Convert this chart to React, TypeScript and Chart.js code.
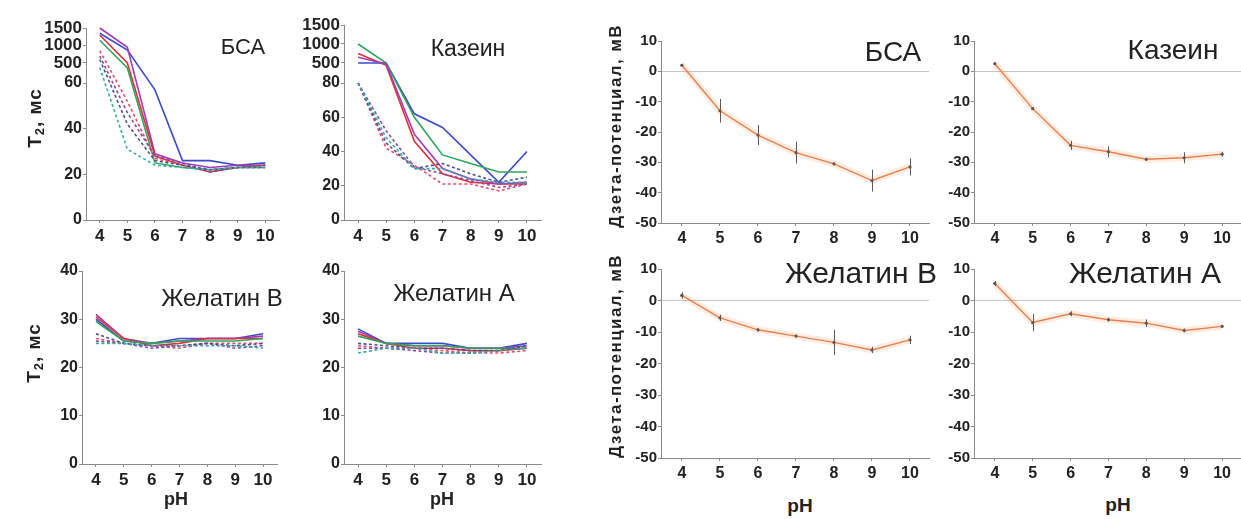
import React, { useEffect, useRef } from 'react';
import { Chart, registerables, LinearScale } from 'chart.js';

// ---------------- data ----------------
const PH = [4, 5, 6, 7, 8, 9, 10];

// T2 (ms), BSA
const BSA_SOLID_BLUE = [1350, 870, 57, 26, 26, 24, 25];
const BSA_SOLID_PURPLE = [1500, 950, 29, 25, 23, 24, 24];
const BSA_SOLID_RED = [1300, 500, 28, 24, 21, 23, 24];
const BSA_SOLID_GREEN = [1150, 390, 25, 23, 22, 23, 23];
const BSA_DASH_RED = [850, 52, 27, 24, 22, 23, 24];
const BSA_DASH_PURPLE = [700, 47, 28, 25, 21, 23, 24];
const BSA_DASH_NAVY = [600, 42, 26, 24, 22, 23, 23];
const BSA_DASH_TEAL = [400, 31, 24, 23, 22, 23, 23];

// T2 (ms), casein
const CAS_SOLID_GREEN = [1000, 500, 60, 38, 33, 28, 28];
const CAS_SOLID_RED = [750, 450, 46, 27, 22, 21, 21];
const CAS_SOLID_BLUE = [500, 500, 62, 54, 38, 22, 40];
const CAS_SOLID_PURPLE = [650, 480, 50, 30, 24, 21, 22];
const CAS_DASH_PURPLE = [80, 52, 31, 27, 23, 19, 21];
const CAS_DASH_NAVY = [80, 45, 30, 33, 27, 22, 25];
const CAS_DASH_RED = [80, 42, 32, 21, 21, 17, 21];
const CAS_DASH_TEAL = [80, 48, 30, 30, 24, 22, 22];

// T2 (ms), gelatin B
const GB_SOLID_BLUE = [30, 25.5, 25, 26, 26, 26, 27];
const GB_SOLID_PURPLE = [31, 26, 25, 25.5, 26, 26, 26.5];
const GB_SOLID_RED = [30.5, 26, 24.5, 25, 26, 26, 26];
const GB_SOLID_GREEN = [29.5, 25.5, 25, 25.5, 25.5, 25.5, 26];
const GB_DASH_NAVY = [27, 25, 24.5, 24.5, 25, 24.5, 25];
const GB_DASH_RED = [26, 25, 24.5, 24, 25, 25, 25];
const GB_DASH_PURPLE = [25.5, 25, 24, 24.5, 25, 24, 24.5];
const GB_DASH_TEAL = [25, 25, 24.5, 24.5, 24.5, 24.5, 24];

// T2 (ms), gelatin A
const GA_SOLID_BLUE = [28, 25, 25, 25, 24, 24, 25];
const GA_SOLID_PURPLE = [27.5, 25, 24.5, 24.5, 24, 24, 24.5];
const GA_SOLID_RED = [27, 25, 24, 24, 23.5, 23.5, 24];
const GA_SOLID_GREEN = [26.5, 25, 24.5, 24.5, 24, 24, 24];
const GA_DASH_NAVY = [25, 24.5, 24, 24, 23.5, 23.5, 24.5];
const GA_DASH_RED = [24.5, 24, 24, 23.5, 23, 23, 23.5];
const GA_DASH_PURPLE = [24, 24, 23.5, 23, 23, 23.5, 24];
const GA_DASH_TEAL = [23, 24, 24, 23, 23, 23.5, 24];

// zeta potential (mV) with errors
const Z_BSA = [2, -13, -21, -26.8, -30.5, -36, -31.5];
const Z_BSA_ERR = [0.5, 3.9, 3.3, 3.6, 0.5, 3.6, 2.8];
const Z_CAS = [2.5, -12.3, -24.4, -26.5, -29, -28.5, -27.3];
const Z_CAS_ERR = [0.5, 0.5, 1.5, 1.8, 0.5, 1.8, 0.8];
const Z_GB = [1.6, -5.5, -9.3, -11.3, -13.3, -15.7, -12.5];
const Z_GB_ERR = [1, 1, 0.5, 0.5, 4, 1, 1.3];
const Z_GA = [5.4, -7, -4.2, -6.1, -7.2, -9.5, -8.2];
const Z_GA_ERR = [0.8, 2.8, 0.8, 0.6, 1.2, 0.6, 0.5];

// tick labels
const T2_BSA_TICKS = [0, 20, 40, 60, 500, 1000, 1500];
const T2_CAS_TICKS = [0, 20, 40, 60, 80, 500, 1000, 1500];
const T2_GEL_TICKS = [0, 10, 20, 30, 40];
const ZETA_TICKS = [-50, -40, -30, -20, -10, 0, 10];

// ---------------- styles ----------------
const FONT = '"Liberation Sans", Arial, Helvetica, sans-serif';
const AXIS = '#8a8a8a';
const TXT = '#222';
const C = {
  blue: '#3b4cc8', purple: '#a23cb4', red: '#e2303a', green: '#2fa45e',
  dred: '#e2506e', dpurple: '#8a4a9e', dnavy: '#4f4f8c', dteal: '#36aaa6',
};

// broken axis: value breakpoints -> fraction of axis height
const BREAKS: Record<string, { values: number[]; fracs: number[] }> = {
  yBSA: { values: [0, 60, 500, 1500], fracs: [0, 137 / 192, 157 / 192, 1] },
  yCAS: { values: [0, 80, 500, 1500], fracs: [0, 137 / 195, 157 / 195, 1] },
};

class BrokenScale extends LinearScale {
  static id = 'broken';
  static defaults = LinearScale.defaults;
  _dec(v: number) {
    const b = BREAKS[(this as any).id];
    const V = b.values, F = b.fracs;
    let i = 1;
    while (i < V.length - 1 && v > V[i]) i++;
    return F[i - 1] + ((v - V[i - 1]) / (V[i] - V[i - 1])) * (F[i] - F[i - 1]);
  }
  getPixelForValue(v: any) {
    if (v === null || v === undefined || isNaN(v)) return NaN;
    return (this as any).getPixelForDecimal(this._dec(+v));
  }
  getValueForPixel(p: number) {
    const d = (this as any).getDecimalForPixel(p);
    const b = BREAKS[(this as any).id];
    const V = b.values, F = b.fracs;
    let i = 1;
    while (i < F.length - 1 && d > F[i]) i++;
    return V[i - 1] + ((d - F[i - 1]) / (F[i] - F[i - 1])) * (V[i] - V[i - 1]);
  }
}

Chart.register(...registerables, BrokenScale as any);

const PT = 12, PR = 4, XH = 30;

type Series = { v: number[]; color: string; dash: boolean };

function t2Series(list: Series[], yId: string) {
  return list.map((s) => ({
    data: PH.map((x, i) => ({ x, y: s.v[i] })),
    borderColor: s.color,
    borderWidth: 1.6,
    borderDash: s.dash ? [3, 2.5] : [],
    pointRadius: 0,
    tension: 0,
    fill: false,
    clip: false as any,
    yAxisID: yId,
  }));
}

function xScale(min: number, size: number) {
  return {
    type: 'linear',
    min,
    max: 10.5,
    afterBuildTicks: (s: any) => { s.ticks = PH.map((v) => ({ value: v })); },
    afterFit: (s: any) => { s.height = XH; },
    grid: { display: true, drawOnChartArea: false, tickColor: AXIS, tickLength: 3 },
    border: { display: true, color: AXIS, width: 1 },
    ticks: { autoSkip: false, maxRotation: 0, padding: 3, color: TXT, font: { family: FONT, size, weight: 'bold' } },
  };
}

function baseOptions(scales: any) {
  return {
    animation: false,
    responsive: false,
    events: [],
    layout: { padding: { top: PT, right: PR, left: 0, bottom: 0 } },
    plugins: { legend: { display: false }, tooltip: { enabled: false }, title: { display: false } },
    scales,
  };
}

function t2Config(series: Series[], yId: string, ticks: number[], broken: boolean, max: number, yw: number) {
  const y: any = {
    type: broken ? 'broken' : 'linear',
    axis: 'y',
    position: 'left',
    min: 0,
    max,
    afterBuildTicks: (s: any) => { s.ticks = ticks.map((v) => ({ value: v })); },
    afterFit: (s: any) => { s.width = yw; },
    grid: { display: true, drawOnChartArea: false, tickColor: AXIS, tickLength: 3 },
    border: { display: true, color: AXIS, width: 1 },
    ticks: {
      autoSkip: false,
      padding: 1,
      color: TXT,
      callback: (v: any) => String(v),
      font: (ctx: any) => ({ family: FONT, weight: 'bold', size: ctx.tick && ctx.tick.value >= 500 ? 17 : 16 }),
    },
  };
  return {
    type: 'line',
    data: { datasets: t2Series(series, yId) },
    options: baseOptions({ x: xScale(3.5, 17), [yId]: y }),
  };
}

function errorBars(vals: number[], errs: number[]) {
  return {
    id: 'errbars',
    afterDatasetsDraw(chart: any) {
      const { ctx } = chart;
      const x = chart.scales.x, y = chart.scales.y;
      ctx.save();
      ctx.strokeStyle = '#5a5a5a';
      ctx.lineWidth = 1;
      PH.forEach((p, i) => {
        const px = Math.round(x.getPixelForValue(p)) + 0.5;
        ctx.beginPath();
        ctx.moveTo(px, y.getPixelForValue(vals[i] + errs[i]));
        ctx.lineTo(px, y.getPixelForValue(vals[i] - errs[i]));
        ctx.stroke();
      });
      ctx.restore();
    },
  };
}

function zetaConfig(vals: number[], errs: number[]) {
  const pts = PH.map((x, i) => ({ x, y: vals[i] }));
  return {
    type: 'line',
    data: {
      datasets: [
        { data: pts, borderColor: 'rgba(250,170,120,0.22)', borderWidth: 7, pointRadius: 0, tension: 0, clip: false },
        { data: pts, borderColor: '#dc7848', borderWidth: 1.4, pointRadius: 1.6, pointBackgroundColor: '#444', pointBorderWidth: 0, tension: 0, clip: false },
      ],
    },
    options: baseOptions({
      x: xScale(3.45, 16),
      y: {
        type: 'linear',
        min: -50,
        max: 10,
        afterBuildTicks: (s: any) => { s.ticks = ZETA_TICKS.map((v) => ({ value: v })); },
        afterFit: (s: any) => { s.width = 40; },
        grid: {
          display: true,
          color: (ctx: any) => (ctx.tick && ctx.tick.value === 0 ? '#c4c4c4' : 'rgba(0,0,0,0)'),
          tickColor: AXIS,
          tickLength: 3,
        },
        border: { display: true, color: AXIS, width: 1 },
        ticks: { autoSkip: false, padding: 1, color: TXT, font: { family: FONT, size: 15, weight: 'bold' } },
      },
    }),
    plugins: [errorBars(vals, errs)],
  };
}

const S = (v: number[], color: string, dash: boolean): Series => ({ v, color, dash });

type Panel = { L: number; T: number; R: number; B: number; yw: number; make: () => any };

const PANELS: Panel[] = [
  {
    L: 86, T: 28, R: 279, B: 220, yw: 52,
    make: () => t2Config([
      S(BSA_DASH_TEAL, C.dteal, true), S(BSA_DASH_NAVY, C.dnavy, true), S(BSA_DASH_PURPLE, C.dpurple, true), S(BSA_DASH_RED, C.dred, true),
      S(BSA_SOLID_GREEN, C.green, false), S(BSA_SOLID_RED, C.red, false), S(BSA_SOLID_PURPLE, C.purple, false), S(BSA_SOLID_BLUE, C.blue, false),
    ], 'yBSA', T2_BSA_TICKS, true, 1500, 52),
  },
  {
    L: 344, T: 25, R: 541, B: 220, yw: 52,
    make: () => t2Config([
      S(CAS_DASH_TEAL, C.dteal, true), S(CAS_DASH_NAVY, C.dnavy, true), S(CAS_DASH_PURPLE, C.dpurple, true), S(CAS_DASH_RED, C.dred, true),
      S(CAS_SOLID_PURPLE, C.purple, false), S(CAS_SOLID_RED, C.red, false), S(CAS_SOLID_GREEN, C.green, false), S(CAS_SOLID_BLUE, C.blue, false),
    ], 'yCAS', T2_CAS_TICKS, true, 1500, 52),
  },
  {
    L: 82, T: 271, R: 277, B: 464, yw: 40,
    make: () => t2Config([
      S(GB_DASH_TEAL, C.dteal, true), S(GB_DASH_NAVY, C.dnavy, true), S(GB_DASH_PURPLE, C.dpurple, true), S(GB_DASH_RED, C.dred, true),
      S(GB_SOLID_GREEN, C.green, false), S(GB_SOLID_RED, C.red, false), S(GB_SOLID_PURPLE, C.purple, false), S(GB_SOLID_BLUE, C.blue, false),
    ], 'y', T2_GEL_TICKS, false, 40, 40),
  },
  {
    L: 344, T: 271, R: 541, B: 464, yw: 40,
    make: () => t2Config([
      S(GA_DASH_TEAL, C.dteal, true), S(GA_DASH_NAVY, C.dnavy, true), S(GA_DASH_PURPLE, C.dpurple, true), S(GA_DASH_RED, C.dred, true),
      S(GA_SOLID_GREEN, C.green, false), S(GA_SOLID_RED, C.red, false), S(GA_SOLID_PURPLE, C.purple, false), S(GA_SOLID_BLUE, C.blue, false),
    ], 'y', T2_GEL_TICKS, false, 40, 40),
  },
  { L: 661, T: 41, R: 929, B: 223, yw: 40, make: () => zetaConfig(Z_BSA, Z_BSA_ERR) },
  { L: 974, T: 41, R: 1241, B: 223, yw: 40, make: () => zetaConfig(Z_CAS, Z_CAS_ERR) },
  { L: 661, T: 269, R: 929, B: 458, yw: 40, make: () => zetaConfig(Z_GB, Z_GB_ERR) },
  { L: 974, T: 269, R: 1241, B: 458, yw: 40, make: () => zetaConfig(Z_GA, Z_GA_ERR) },
];

type Txt = { x: number; y: number; size: number; bold?: boolean; rot?: boolean; ls?: number; node: React.ReactNode };

const T2_LABEL = <span>T<sub style={{ fontSize: '0.68em', verticalAlign: '-0.25em' }}>2</sub>, мс</span>;
const ZETA_LABEL = 'Дзета-потенциал, мВ';

const TEXTS: Txt[] = [
  { x: 243, y: 47, size: 22, node: 'БСА' },
  { x: 468, y: 48, size: 23, node: 'Казеин' },
  { x: 222, y: 298, size: 24, node: 'Желатин В' },
  { x: 454, y: 293, size: 24, node: 'Желатин А' },
  { x: 893, y: 52, size: 28, node: 'БСА' },
  { x: 1173, y: 50, size: 28, node: 'Казеин' },
  { x: 861, y: 273, size: 30, node: 'Желатин В' },
  { x: 1145, y: 273, size: 30, node: 'Желатин А' },
  { x: 176, y: 499, size: 18, bold: true, node: 'pH' },
  { x: 442, y: 499, size: 18, bold: true, node: 'pH' },
  { x: 800, y: 505, size: 19, bold: true, node: 'pH' },
  { x: 1118, y: 504, size: 19, bold: true, node: 'pH' },
  { x: 36, y: 118, size: 19, bold: true, rot: true, ls: 1, node: T2_LABEL },
  { x: 35, y: 353, size: 19, bold: true, rot: true, ls: 1, node: T2_LABEL },
  { x: 615, y: 126, size: 17, bold: true, rot: true, ls: 1.4, node: ZETA_LABEL },
  { x: 615, y: 356, size: 17, bold: true, rot: true, ls: 1.4, node: ZETA_LABEL },
];

export default function App() {
  const refs = useRef<(HTMLCanvasElement | null)[]>([]);
  useEffect(() => {
    const charts = PANELS.map((p, i) => new Chart(refs.current[i] as HTMLCanvasElement, p.make()));
    return () => charts.forEach((c) => c.destroy());
  }, []);
  return (
    <div style={{ position: 'absolute', left: 0, top: 0, width: 1241, height: 519, overflow: 'hidden', background: '#fff', fontFamily: FONT, color: TXT }}>
      {PANELS.map((p, i) => {
        const w = p.R - p.L + p.yw + PR;
        const h = p.B - p.T + PT + XH;
        return (
          <canvas
            key={i}
            ref={(el) => { refs.current[i] = el; }}
            width={w}
            height={h}
            style={{ position: 'absolute', left: p.L - p.yw, top: p.T - PT, width: w, height: h }}
          />
        );
      })}
      {TEXTS.map((t, i) => (
        <div
          key={'t' + i}
          style={{
            position: 'absolute', left: t.x, top: t.y, whiteSpace: 'nowrap', lineHeight: 1,
            fontSize: t.size, fontWeight: t.bold ? 'bold' : 'normal', letterSpacing: t.ls ? t.ls : 0,
            transform: `translate(-50%, -50%)${t.rot ? ' rotate(-90deg)' : ''}`,
          }}
        >
          {t.node}
        </div>
      ))}
    </div>
  );
}
